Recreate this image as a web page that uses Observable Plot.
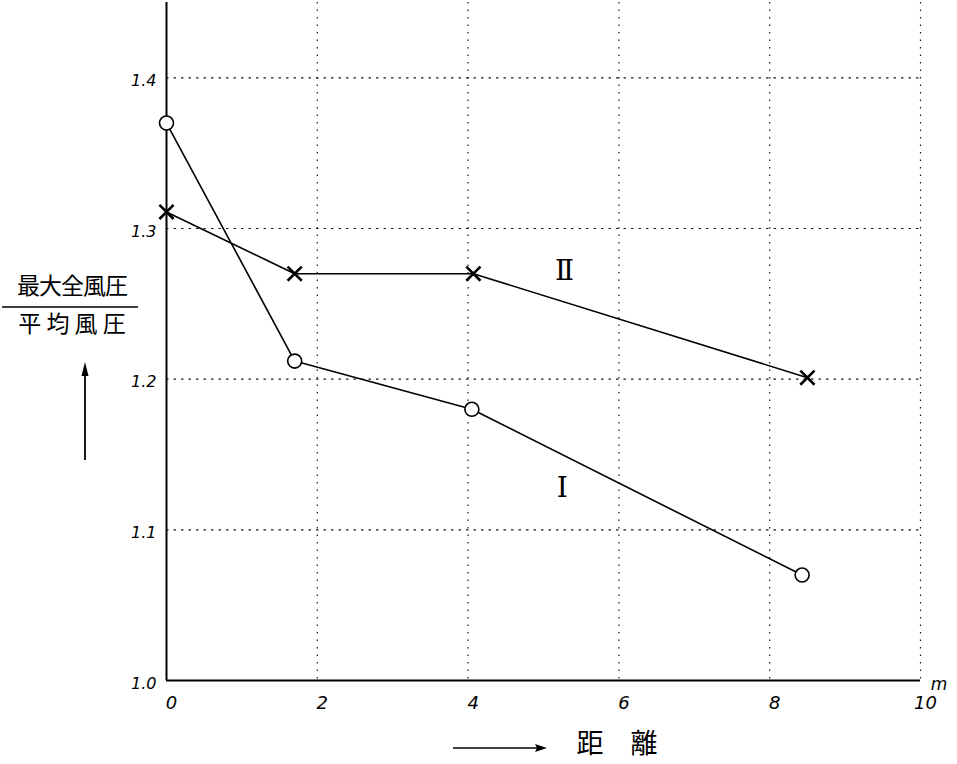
<!DOCTYPE html>
<html>
<head>
<meta charset="utf-8">
<script src="https://cdn.jsdelivr.net/npm/d3@7"></script>
<script src="https://cdn.jsdelivr.net/npm/@observablehq/plot@0.6"></script>
<style>
  html, body { margin: 0; padding: 0; background: #fff; }
  #chart svg { display: block; }
  g[aria-label^="x-axis"], g[aria-label^="x-axis"] text { font-size: 18px !important; font-style: italic; }
  g[aria-label^="y-axis"], g[aria-label^="y-axis"] text { font-size: 16px !important; font-style: italic; }
</style>
</head>
<body>
<div id="chart"></div>
<script>
// ---- data ----
const distanceI  = [0, 1.7, 4.05, 8.43];
const ratioI     = [1.37, 1.212, 1.18, 1.07];
const distanceII = [0, 1.7, 4.07, 8.5];
const ratioII    = [1.311, 1.27, 1.27, 1.201];
const xTicks = [0, 2, 4, 6, 8, 10];
const yTicks = [1.0, 1.1, 1.2, 1.3, 1.4];
const gridX = [2, 4, 6, 8, 10];
const gridY = [1.1, 1.2, 1.3, 1.4];
const seriesLabels = ["Ⅰ", "Ⅱ"];
const seriesLabelX = [5.25, 5.28];
const seriesLabelY = [1.128, 1.272];
const yTitleTop = "最大全風圧";
const yTitleBottom = "平 均 風 圧";
const xTitle = "距　離";
const xUnit = "m";

const dataI = distanceI.map((d, i) => ({x: d, y: ratioI[i]}));
const dataII = distanceII.map((d, i) => ({x: d, y: ratioII[i]}));
const labels = seriesLabels.map((t, i) => ({t, x: seriesLabelX[i], y: seriesLabelY[i]}));

const tickFont = "'DejaVu Sans', sans-serif";

const plot = Plot.plot({
  width: 957,
  height: 764,
  marginLeft: 166,
  marginRight: 37,
  marginTop: 2,
  marginBottom: 84,
  style: {background: "#fff", color: "#000", fontSize: "17px", fontFamily: tickFont},
  x: {domain: [0, 10]},
  y: {domain: [1.0, 1.45]},
  marks: [
    Plot.gridX(gridX, {stroke: "#000", strokeOpacity: 0.9, strokeDasharray: "1.5,6", strokeWidth: 1.2}),
    Plot.gridY(gridY, {stroke: "#000", strokeOpacity: 0.9, strokeDasharray: "2.5,5", strokeWidth: 1.2}),
    Plot.ruleX([0], {stroke: "#000", strokeWidth: 2}),
    Plot.ruleY([1.0], {stroke: "#000", strokeWidth: 2}),
    Plot.axisX({ticks: xTicks, tickSize: 0, tickPadding: 16, dx: 5, label: null,
      fontSize: 18, fontStyle: "italic"}),
    Plot.axisY({ticks: yTicks, tickSize: 0, tickPadding: 10, dy: 3, label: null,
      tickFormat: d3.format(".1f"), fontSize: 16, fontStyle: "italic"}),
    Plot.line(dataI, {x: "x", y: "y", stroke: "#000", strokeWidth: 1.6}),
    Plot.line(dataII, {x: "x", y: "y", stroke: "#000", strokeWidth: 1.6}),
    Plot.dot(dataI, {x: "x", y: "y", symbol: "circle", r: 7, fill: "#fff", stroke: "#000", strokeWidth: 1.6}),
    Plot.dot(dataII, {x: "x", y: "y", symbol: "times", r: 6.5, stroke: "#000", strokeWidth: 2.6}),
    Plot.text(labels, {x: "x", y: "y", text: "t", fontSize: 28,
      fontFamily: "'DejaVu Serif', 'Liberation Serif', serif", fill: "#000"})
  ]
});

document.getElementById("chart").appendChild(plot);

const svg = d3.select(plot);
svg.selectAll("g[aria-label^='x-axis'] text").attr("font-size", 18).style("font-size", "18px");
svg.selectAll("g[aria-label^='y-axis'] text").attr("font-size", 16).style("font-size", "16px");

// ---- axis titles and unit (outside the frame) ----
const cjk = "'Noto Sans CJK JP', 'Noto Sans CJK SC', sans-serif";
const g = svg.append("g").attr("fill", "#000");

g.append("text").attr("x", 72).attr("y", 288).attr("text-anchor", "middle")
  .attr("dominant-baseline", "middle").attr("font-family", cjk).attr("font-size", 23)
  .attr("letter-spacing", -1).text(yTitleTop);
g.append("line").attr("x1", 2).attr("x2", 138).attr("y1", 307).attr("y2", 307)
  .attr("stroke", "#000").attr("stroke-width", 1.3);
g.append("text").attr("x", 72).attr("y", 326).attr("text-anchor", "middle")
  .attr("dominant-baseline", "middle").attr("font-family", cjk).attr("font-size", 23)
  .text(yTitleBottom);

// vertical arrow
g.append("line").attr("x1", 85).attr("x2", 85).attr("y1", 460).attr("y2", 368)
  .attr("stroke", "#000").attr("stroke-width", 1.8);
g.append("path").attr("d", "M85,362 L81.5,376 L88.5,376 Z");

// horizontal arrow + x title
g.append("line").attr("x1", 453).attr("x2", 540).attr("y1", 748).attr("y2", 748)
  .attr("stroke", "#000").attr("stroke-width", 1.5);
g.append("path").attr("d", "M547,748 L535,744 L537,748 L535,752 Z");
g.append("text").attr("x", 617).attr("y", 746).attr("text-anchor", "middle")
  .attr("dominant-baseline", "middle").attr("font-family", cjk).attr("font-size", 27)
  .text(xTitle);

// unit "m"
g.append("text").attr("x", 939).attr("y", 690).attr("text-anchor", "middle")
  .attr("font-family", tickFont).attr("font-style", "italic").attr("font-size", 17)
  .text(xUnit);
</script>
</body>
</html>
